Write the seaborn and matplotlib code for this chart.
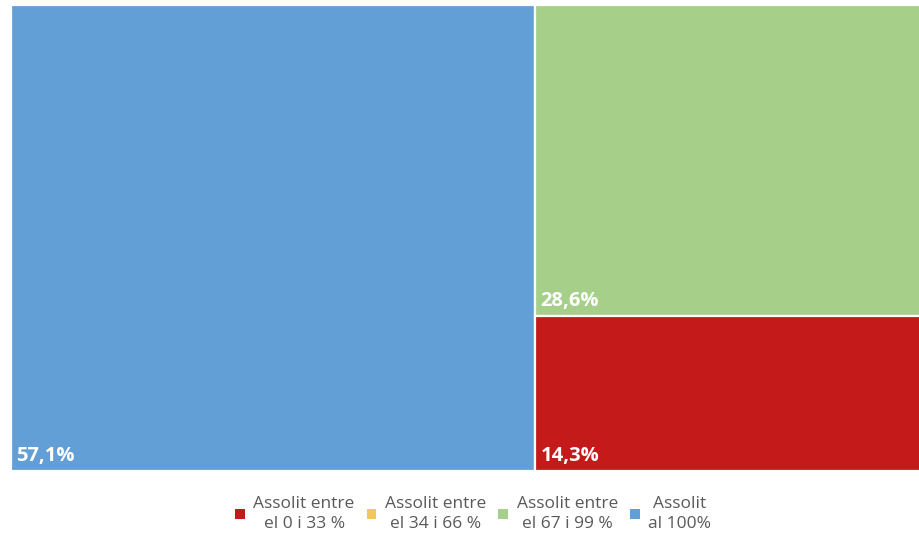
import numpy as np
import pandas as pd
import matplotlib
matplotlib.use("Agg")
import matplotlib.pyplot as plt
import seaborn as sns
from matplotlib.patches import Patch

categories = ["Assolit entre\nel 0 i 33 %", "Assolit entre\nel 34 i 66 %",
              "Assolit entre\nel 67 i 99 %", "Assolit\nal 100%"]
values = [14.3, 0.0, 28.6, 57.1]
labels = ["14,3%", "0,0%", "28,6%", "57,1%"]
colors = ["#C41A1A", "#F3C85A", "#A6CF8A", "#629FD6"]

sns.set_theme(style="white")
plt.rcParams["font.family"] = ["Open Sans", "DejaVu Sans"]

df = pd.DataFrame({"cat": categories, "value": values, "label": labels, "color": colors})
tiles = df[df["value"] > 0].sort_values("value", ascending=False).reset_index(drop=True)

# simple treemap: largest tile takes a full-height column, the rest stack in the remaining column
total = tiles["value"].sum()
first = tiles.iloc[0]
rest = tiles.iloc[1:]
rest_total = rest["value"].sum()

rects = []
w0 = first["value"] / total
rects.append((0, 0, w0, 1, first))
y = 1.0
for _, row in rest.iterrows():
    h = row["value"] / rest_total
    y -= h
    rects.append((w0, y, 1 - w0, h, row))

fig = plt.figure(figsize=(9.19, 5.37), dpi=100)
# plot area runs a little past the right edge of the image
ax = fig.add_axes([11 / 919, 1 - 471 / 537, 918 / 919, 466 / 537])

for x0, y0, w, h, row in rects:
    ax.bar(x0, h, width=w, bottom=y0, align="edge", color=row["color"],
           edgecolor="white", linewidth=1.6)
    ax.text(x0 + 0.006, y0 + 0.01, row["label"], color="white", fontsize=14.5,
            fontweight="bold", ha="left", va="bottom")

ax.set_xlim(0, 1)
ax.set_ylim(0, 1)
ax.axis("off")

handles = [Patch(facecolor=c, edgecolor="none") for c in colors]
leg = fig.legend(handles, categories, loc="center", bbox_to_anchor=(0.515, 1 - 514 / 537),
                 ncol=4, frameon=False, fontsize=12.5, handlelength=0.55, handleheight=0.55,
                 handletextpad=0.5, columnspacing=0.7)
for t in leg.get_texts():
    t.set_multialignment("center")
    t.set_linespacing(1.35)
    t.set_color("#595959")

fig.savefig("out.png", dpi=100)
